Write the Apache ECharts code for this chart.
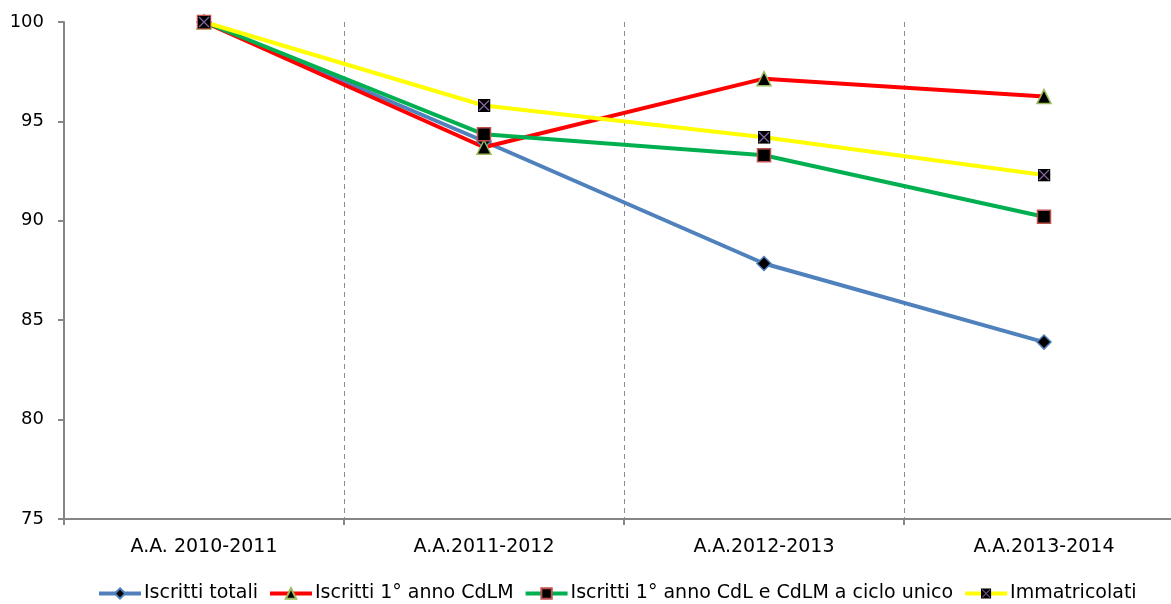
<!DOCTYPE html>
<html>
<head>
<meta charset="utf-8">
<script src="https://cdn.jsdelivr.net/npm/echarts@6/dist/echarts.min.js"></script>
<style>
  html, body { margin: 0; padding: 0; background: #fff; overflow: hidden; }
  /* the plot runs past the right edge of the window, so the canvas is a bit wider */
  #chart { width: 1184px; height: 604px; }
</style>
</head>
<body>
<div id="chart"></div>
<script>
// Academic years on the x axis
const categories = ['A.A. 2010-2011', 'A.A.2011-2012', 'A.A.2012-2013', 'A.A.2013-2014'];

// Index numbers, base 2010-2011 = 100
const iscrittiTotali = [100, 94.0, 87.85, 83.9];
const iscrittiPrimoCdLM = [100, 93.7, 97.15, 96.25];
const iscrittiPrimoCdLCiclo = [100, 94.35, 93.3, 90.2];
const immatricolati = [100, 95.8, 94.2, 92.3];

const seriesNames = [
  'Iscritti totali',
  'Iscritti 1° anno CdLM',
  'Iscritti 1° anno CdL e CdLM a ciclo unico',
  'Immatricolati'
];

const font = '"DejaVu Sans", Verdana, sans-serif';

// black square crossed by a purple X
const crossSquare = 'image://data:image/svg+xml;utf8,' + encodeURIComponent(
  '<svg xmlns="http://www.w3.org/2000/svg" width="26" height="26" viewBox="0 0 26 26">' +
  '<rect x="0" y="0" width="26" height="26" fill="#000"/>' +
  '<path d="M3 3 L23 23 M23 3 L3 23" stroke="#8064a2" stroke-width="2.6"/>' +
  '</svg>'
);

function makeSeries(name, data, lineColor, symbol, symbolSize, borderColor) {
  return {
    name: name,
    type: 'line',
    data: data,
    symbol: symbol,
    symbolSize: symbolSize,
    showAllSymbol: true,
    lineStyle: { color: lineColor, width: 4 },
    itemStyle: { color: '#000', borderColor: borderColor, borderWidth: 1.5 },
    emphasis: { disabled: true },
    animation: false
  };
}

const chart = echarts.init(document.getElementById('chart'), null, { renderer: 'canvas' });

chart.setOption({
  backgroundColor: '#fff',
  animation: false,
  grid: { left: 64, top: 22, right: 0, bottom: 85, containLabel: false },
  legend: {
    bottom: -4,
    left: 92,
    itemWidth: 42,
    itemHeight: 13,
    itemGap: 10,
    lineStyle: { width: 4 },
    textStyle: { fontFamily: font, fontSize: 19, color: '#000', padding: [0, 0, 0, -2] },
    data: seriesNames
  },
  xAxis: {
    type: 'category',
    data: categories,
    boundaryGap: true,
    axisLine: { lineStyle: { color: '#868686', width: 2 } },
    axisTick: { show: true, length: 6, lineStyle: { color: '#868686', width: 2 } },
    axisLabel: { fontFamily: font, fontSize: 19, color: '#000', margin: 19 },
    splitLine: { show: true, lineStyle: { color: '#8c8c8c', type: [5, 4], width: 1 } }
  },
  yAxis: {
    type: 'value',
    min: 75,
    max: 100,
    interval: 5,
    axisLine: { show: true, lineStyle: { color: '#868686', width: 2 } },
    axisTick: { show: true, length: 6, lineStyle: { color: '#868686', width: 2 } },
    axisLabel: { fontFamily: font, fontSize: 18, color: '#000', margin: 20 },
    splitLine: { show: false }
  },
  series: [
    makeSeries(seriesNames[0], iscrittiTotali, '#4f81bd', 'diamond', 14, '#4f81bd'),
    makeSeries(seriesNames[1], iscrittiPrimoCdLM, '#ff0000', 'triangle', 14, '#9bbb59'),
    makeSeries(seriesNames[2], iscrittiPrimoCdLCiclo, '#00b050', 'rect', 13, '#c0504d'),
    makeSeries(seriesNames[3], immatricolati, '#ffff00', crossSquare, 13, '#8064a2')
  ]
});
</script>
</body>
</html>
